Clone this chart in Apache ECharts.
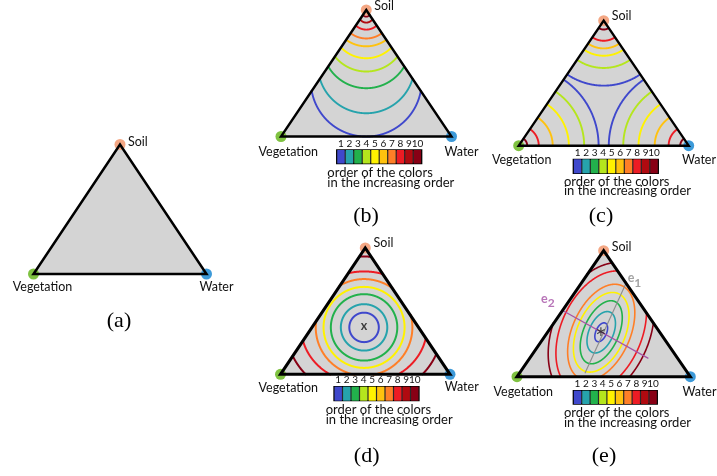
<!DOCTYPE html>
<html><head><meta charset="utf-8">
<script src="https://cdn.jsdelivr.net/npm/echarts@6/dist/echarts.min.js"></script>
<style>html,body{margin:0;padding:0;background:#fff}#c{width:717px;height:476px}</style>
</head><body><div id="c"></div>
<script>
// ---------------- data ----------------
const vertexNames = ['Vegetation', 'Water', 'Soil'];
const vertexX = [0, 100, 50];
const vertexY = [0, 0, 74.3];
const levels = ['1', '2', '3', '4', '5', '6', '7', '8', '9', '10'];
const swatchValues = [1, 1, 1, 1, 1, 1, 1, 1, 1, 1];
// contour: [centerX, centerY, radiusA, radiusB, rotationDeg, arcStartDeg, arcEndDeg, level]
// (radii measured in x-axis units)
const contoursB = [
  [50, 32.5, 32.5, 32.5, 0, 180, 360, 1],
  [50, 42.1, 28.4, 28.4, 0, 180, 360, 2],
  [50, 54.3, 25.9, 25.9, 0, 180, 360, 3],
  [50, 61.8, 23.6, 23.6, 0, 180, 360, 4],
  [50, 66.5, 20.5, 20.5, 0, 180, 360, 5],
  [50, 73.0, 20.0, 20.0, 0, 180, 360, 6],
  [50, 72.6, 15.0, 15.0, 0, 180, 360, 7],
  [50, 71.8, 9.0, 9.0, 0, 180, 360, 8],
  [50, 71.2, 4.3, 4.3, 0, 180, 360, 9],
  [50, 72.6, 2.2, 2.2, 0, 180, 360, 10]
];
const contoursC = [
  [50, 74.3, 38.2, 38.2, 0, 0, 360, 1],
  [50, 74.3, 27.8, 27.8, 0, 0, 360, 4],
  [50, 74.3, 20.6, 20.6, 0, 0, 360, 5],
  [50, 74.3, 16.3, 16.3, 0, 0, 360, 6],
  [50, 74.3, 11.8, 11.8, 0, 0, 360, 8],
  [50, 74.3, 5.2, 5.2, 0, 0, 360, 10],
  [0, 0, 47.0, 47.0, 0, 0, 360, 1],
  [0, 0, 38.5, 38.5, 0, 0, 360, 4],
  [0, 0, 29.5, 29.5, 0, 0, 360, 5],
  [0, 0, 20.0, 20.0, 0, 0, 360, 6],
  [0, 0, 11.8, 11.8, 0, 0, 360, 8],
  [0, 0, 5.0, 5.0, 0, 0, 360, 10],
  [100, 0, 47.0, 47.0, 0, 0, 360, 1],
  [100, 0, 38.5, 38.5, 0, 0, 360, 4],
  [100, 0, 29.5, 29.5, 0, 0, 360, 5],
  [100, 0, 20.0, 20.0, 0, 0, 360, 6],
  [100, 0, 11.8, 11.8, 0, 0, 360, 8],
  [100, 0, 5.0, 5.0, 0, 0, 360, 10]
];
const contoursD = [
  [49.3, 27.6, 8.7, 8.7, 0, 0, 360, 1],
  [49.3, 27.6, 13.7, 13.7, 0, 0, 360, 2],
  [49.3, 27.6, 19.6, 19.6, 0, 0, 360, 3],
  [49.3, 27.6, 23.9, 23.9, 0, 0, 360, 5],
  [49.3, 27.6, 28.5, 28.5, 0, 0, 360, 7],
  [49.3, 27.6, 37.1, 33.0, 0, 0, 360, 8],
  [49.3, 27.6, 46.0, 41.8, 0, 0, 360, 10]
];
const contoursE = [
  [48.6, 26.2, 5.8, 3.1, 66, 0, 360, 1],
  [48.6, 26.2, 12.7, 7.0, 66, 0, 360, 2],
  [48.6, 26.2, 19.4, 10.1, 66, 0, 360, 3],
  [48.6, 26.2, 24.4, 13.8, 66, 0, 360, 5],
  [48.6, 26.2, 29.4, 16.7, 66, 0, 360, 7],
  [48.6, 26.2, 37.3, 23.3, 66, 0, 360, 8],
  [48.6, 26.2, 42.3, 27.7, 66, 0, 360, 10]
];
const centerD = [49.3, 27.6];
const centerE = [48.6, 26.2];
const axisE1 = [[39.2, 2.0], [63.3, 56.0]];
const axisE2 = [[25.8, 39.3], [75.8, 10.8]];
const panelLetters = ['(a)', '(b)', '(c)', '(d)', '(e)'];
const noteText = 'order of the colors\nin the increasing order';

// ---------------- styles / layout ----------------
const levelColors = ['#3f48cc', '#26a3ac', '#22b14c', '#b5e61d', '#fff200', '#ffc20e', '#ff7f27', '#ed1c24', '#b00a10', '#880015'];
const vertexColors = ['#7fc241', '#3d9ad9', '#f4a784'];
const FONT = 'Lato, "Open Sans", sans-serif';

const panels = [
  { left: 33.5, top: 144.5, width: 173, height: 129.5, lw: 2.5, contours: null, clw: 0,
    bar: null, note: null, letter: [119, 321],
    lab: [[9, 13.3], [10, 13.3], [8, -3]] },
  { left: 281, top: 10, width: 170.5, height: 126.5, lw: 2.4, contours: contoursB, clw: 1.9,
    bar: { left: 336.7, top: 150, width: 85, height: 13.5 }, note: [327.3, 168.6], letter: [366, 216],
    lab: [[7.3, 15.5], [10, 15.5], [8, -4]] },
  { left: 518.7, top: 20.7, width: 170, height: 125, lw: 2.4, contours: contoursC, clw: 1.9,
    bar: { left: 573.3, top: 159.3, width: 85, height: 14 }, note: [564, 177], letter: [601, 216],
    lab: [[3, 14.3], [10.3, 14.3], [8, -5]] },
  { left: 280.5, top: 248, width: 169.5, height: 126.3, lw: 3, contours: contoursD, clw: 2,
    bar: { left: 334, top: 386.7, width: 85, height: 14 }, note: [325.7, 405.3], letter: [366.7, 456],
    lab: [[7.8, 14], [11.7, 12.6], [8.3, -4.7]] },
  { left: 517, top: 250.7, width: 173.3, height: 126, lw: 3, contours: contoursE, clw: 1.6,
    bar: { left: 573.3, top: 390.7, width: 84, height: 13.3 }, note: [564, 408.6], letter: [604, 456],
    lab: [[6.3, 15], [9.2, 15], [8, -4]] }
];

// ---------------- helpers ----------------
function triPoints(api) {
  return vertexX.map((x, i) => api.coord([x, vertexY[i]]));
}
function makeInside(tri) {
  const [A, B, C] = tri;
  const cross = (p, q, r) => (q[0] - p[0]) * (r[1] - p[1]) - (q[1] - p[1]) * (r[0] - p[0]);
  const sgn = cross(A, B, C) > 0 ? 1 : -1;
  const edges = [[A, B], [B, C], [C, A]].map(([p, q]) => {
    const L = Math.hypot(q[0] - p[0], q[1] - p[1]);
    return { p, q, L };
  });
  return pt => edges.every(e => sgn * cross(e.p, e.q, pt) / e.L > -0.6);
}
function contourRenderer(lw) {
  return function (params, api) {
    const c = api.coord([api.value(0), api.value(1)]);
    const ra = api.size([api.value(2), 0])[0];
    const rb = api.size([api.value(3), 0])[0];
    const rot = api.value(4) * Math.PI / 180;
    const t0 = api.value(5) * Math.PI / 180, t1 = api.value(6) * Math.PI / 180;
    const color = levelColors[api.value(7) - 1];
    const inside = makeInside(triPoints(api));
    const cr = Math.cos(rot), sr = Math.sin(rot);
    const pt = t => {
      const u = Math.cos(t) * ra, v = Math.sin(t) * rb;
      return [c[0] + u * cr - v * sr, c[1] - (u * sr + v * cr)];
    };
    const N = 900;
    const segs = [];
    let cur = null, prevT = t0, prevIn = inside(pt(t0));
    const startIn = prevIn;
    if (prevIn) cur = [pt(t0)];
    for (let k = 1; k <= N; k++) {
      const t = t0 + (t1 - t0) * k / N;
      const p = pt(t), inn = inside(p);
      if (inn !== prevIn) {
        let lo = prevT, hi = t;
        for (let j = 0; j < 25; j++) {
          const m = (lo + hi) / 2;
          if (inside(pt(m)) === prevIn) lo = m; else hi = m;
        }
        const b = pt(prevIn ? lo : hi);
        if (prevIn) { cur.push(b); segs.push(cur); cur = null; }
        else cur = [b];
      }
      if (inn) cur.push(p);
      prevT = t; prevIn = inn;
    }
    if (cur && cur.length > 1) segs.push(cur);
    const full = Math.abs(t1 - t0) >= 2 * Math.PI - 1e-6;
    if (full && startIn && prevIn && segs.length > 1) {
      const first = segs.shift();
      segs[segs.length - 1] = segs[segs.length - 1].concat(first.slice(1));
    }
    return {
      type: 'group',
      children: segs.map(s => ({
        type: 'polyline', shape: { points: s },
        style: { stroke: color, lineWidth: lw, fill: 'none', lineJoin: 'round' }
      }))
    };
  };
}
function subLabel(letter, sub, color) {
  return {
    show: true, formatter: '{e|' + letter + '}{s|' + sub + '}', position: 'inside',
    rich: {
      e: { fontSize: 12.5, fontWeight: 'bold', color, fontFamily: FONT, padding: [0, 0, 5, 0] },
      s: { fontSize: 12, fontWeight: 'bold', color, fontFamily: FONT, padding: [5, 0, 0, 0] }
    }
  };
}

// ---------------- option ----------------
const grid = [], xAxis = [], yAxis = [], series = [], graphic = [];
panels.forEach((p, i) => {
  grid.push({ left: p.left, top: p.top, width: p.width, height: p.height, show: false, outerBoundsMode: 'none' });
  xAxis.push({ type: 'value', gridIndex: i, min: 0, max: 100, show: false });
  yAxis.push({ type: 'value', gridIndex: i, min: 0, max: 74.3, show: false });
});
panels.forEach((p, i) => {
  const ax = { xAxisIndex: i, yAxisIndex: i };
  series.push({
    type: 'custom', ...ax, z: 1, silent: true, data: [[0, 0]],
    renderItem: (prm, api) => ({ type: 'polygon', shape: { points: triPoints(api) }, style: { fill: '#d4d4d4', stroke: 'none' } })
  });
  if (p.contours) {
    series.push({ type: 'custom', ...ax, z: 2, silent: true, data: p.contours, renderItem: contourRenderer(p.clw) });
  }
  series.push({
    type: 'scatter', ...ax, z: 4, silent: true, symbolSize: 11,
    data: vertexX.map((x, k) => ({
      value: [x, vertexY[k]], name: vertexNames[k],
      itemStyle: { color: vertexColors[k], opacity: 1 },
      label: {
        show: true, formatter: vertexNames[k], position: 'inside',
        align: k === 2 ? 'left' : 'center', verticalAlign: 'middle',
        offset: p.lab[k], color: '#111', fontSize: 12.5, fontFamily: FONT
      }
    }))
  });
  series.push({
    type: 'custom', ...ax, z: 5, silent: true, data: [[0, 0]],
    renderItem: (prm, api) => ({
      type: 'polygon', shape: { points: triPoints(api) },
      style: { fill: 'none', stroke: '#000', lineWidth: p.lw, lineJoin: 'miter', miterLimit: 10 }
    })
  });
  graphic.push({
    type: 'text', x: p.letter[0], y: p.letter[1], silent: true,
    style: { text: panelLetters[i], fontSize: 22, fontFamily: '"Liberation Serif", "DejaVu Serif", serif', fill: '#000', align: 'center', verticalAlign: 'middle' }
  });
  if (p.note) {
    graphic.push({
      type: 'text', x: p.note[0], y: p.note[1], silent: true,
      style: { text: noteText, fontSize: 13, lineHeight: 9.4, fontFamily: FONT, fill: '#111', align: 'left', verticalAlign: 'top' }
    });
  }
});
// centre markers
series.push({
  type: 'scatter', xAxisIndex: 3, yAxisIndex: 3, z: 6, silent: true, symbolSize: 1,
  itemStyle: { color: 'rgba(0,0,0,0)' },
  data: [{ value: centerD, label: { show: true, formatter: 'x', position: 'inside', offset: [0, -1], color: '#111', fontSize: 12.5, fontWeight: 'bold', fontFamily: FONT } }]
});
// e1 / e2 axes
series.push({
  type: 'line', xAxisIndex: 4, yAxisIndex: 4, z: 3, silent: true, symbol: 'none',
  lineStyle: { color: '#8c8c8c', width: 1.1 }, data: axisE1
});
series.push({
  type: 'line', xAxisIndex: 4, yAxisIndex: 4, z: 3, silent: true, symbol: 'none',
  lineStyle: { color: '#a653a6', width: 1.2 }, data: axisE2
});
series.push({
  type: 'scatter', xAxisIndex: 4, yAxisIndex: 4, z: 6, silent: true, symbolSize: 1,
  itemStyle: { color: 'rgba(0,0,0,0)' },
  data: [
    { value: centerE, label: { show: true, formatter: '\u2217', position: 'inside', offset: [0, 0], color: '#222', fontSize: 14, fontFamily: '"DejaVu Sans", sans-serif' } },
    { value: axisE1[1], label: Object.assign(subLabel('e', '1', '#8c8c8c'), { align: 'left', offset: [1, -1] }) },
    { value: axisE2[0], label: Object.assign(subLabel('e', '2', '#a653a6'), { align: 'right', offset: [-7, -9] }) }
  ]
});
// colour bars
panels.forEach((p, i) => {
  if (!p.bar) return;
  const gi = grid.length;
  grid.push({ left: p.bar.left, top: p.bar.top, width: p.bar.width, height: p.bar.height, show: true,
    backgroundColor: '#2a2a2a', borderColor: '#000', borderWidth: 1.3, outerBoundsMode: 'none' });
  xAxis.push({ type: 'category', gridIndex: gi, data: levels, position: 'top',
    axisLine: { show: false }, axisTick: { show: false }, splitLine: { show: false },
    axisLabel: { interval: 0, margin: 1.5, fontSize: 10, color: '#111', fontFamily: FONT } });
  yAxis.push({ type: 'value', gridIndex: gi, min: 0, max: 1, show: false });
  series.push({
    type: 'bar', xAxisIndex: gi, yAxisIndex: gi, silent: true, barCategoryGap: '14%',
    data: swatchValues.map((v, k) => ({ value: v, itemStyle: { color: levelColors[k] } }))
  });
});

const chart = echarts.init(document.getElementById('c'), null, { renderer: 'canvas' });
chart.setOption({ animation: false, backgroundColor: '#fff', grid, xAxis, yAxis, series, graphic });
</script>
</body></html>
